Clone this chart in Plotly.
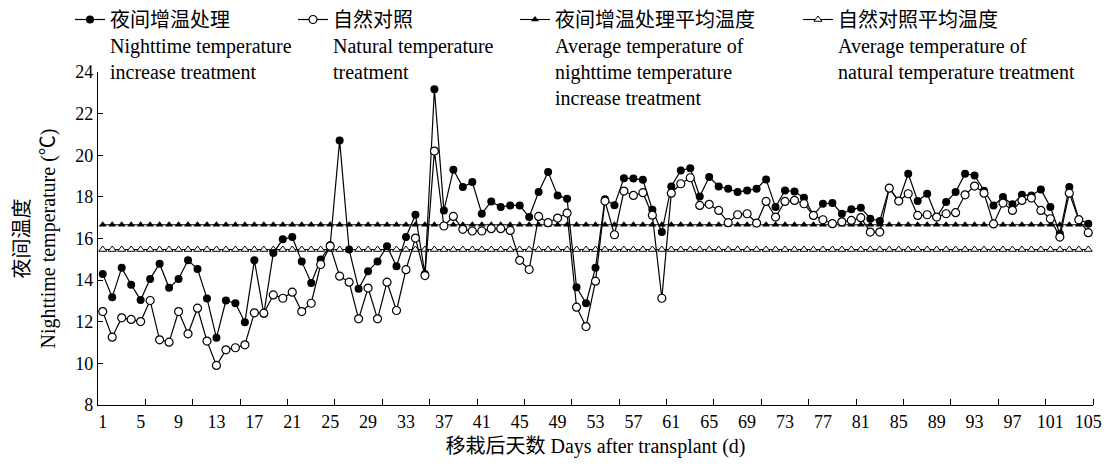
import plotly.graph_objects as go

days = list(range(1, 106))

warming = [14.30, 13.18, 14.59, 13.78, 13.05, 14.06, 14.79, 13.63, 14.06, 14.95,
           14.54, 13.12, 11.23, 13.02, 12.89, 11.98, 14.95, 12.38, 15.30, 15.96,
           16.07, 14.90, 13.86, 14.99, 15.67, 20.71, 15.47, 13.58, 14.43, 14.90,
           15.63, 14.67, 16.07, 17.14, 14.30, 23.17, 17.35, 19.30, 18.47, 18.71,
           17.19, 17.78, 17.51, 17.59, 17.59, 17.03, 18.23, 19.19, 18.07, 17.91,
           13.66, 12.89, 14.59, 17.88, 17.60, 18.90, 18.88, 18.82, 17.38, 16.31,
           18.50, 19.27, 19.38, 18.02, 18.95, 18.50, 18.39, 18.23, 18.31, 18.39,
           18.84, 17.51, 18.31, 18.26, 17.96, 17.11, 17.67, 17.70, 17.19, 17.40,
           17.48, 16.95, 16.84, 18.42, 17.80, 19.11, 17.80, 18.15, 17.03, 17.75,
           18.23, 19.11, 19.03, 18.30, 17.59, 17.99, 17.64, 18.10, 18.07, 18.36,
           17.51, 16.23, 18.47, 16.92, 16.71]

natural = [12.49, 11.26, 12.19, 12.11, 12.01, 13.02, 11.13, 11.02, 12.49, 11.42,
           12.65, 11.07, 9.90, 10.65, 10.75, 10.89, 12.43, 12.41, 13.29, 13.13,
           13.42, 12.49, 12.89, 14.75, 15.63, 14.19, 13.90, 12.14, 13.62, 12.14,
           13.90, 12.54, 14.50, 16.02, 14.22, 20.20, 16.60, 17.06, 16.44, 16.36,
           16.36, 16.47, 16.47, 16.39, 14.95, 14.51, 17.06, 16.76, 16.98, 17.22,
           12.70, 11.77, 13.95, 17.80, 16.18, 18.28, 18.07, 18.20, 17.12, 13.13,
           18.18, 18.63, 18.92, 17.59, 17.64, 17.35, 16.76, 17.14, 17.19, 16.74,
           17.78, 17.03, 17.78, 17.83, 17.67, 17.11, 16.90, 16.71, 16.80, 16.87,
           17.00, 16.31, 16.31, 18.42, 17.80, 18.15, 17.11, 17.14, 17.03, 17.19,
           17.24, 18.10, 18.52, 18.18, 16.70, 17.70, 17.35, 17.83, 17.94, 17.35,
           16.95, 16.07, 18.18, 16.90, 16.28]

warming_mean = 16.66
natural_mean = 15.47

x_ticks = list(range(1, 106, 4))
x_tick_labels = [str(v) for v in x_ticks]
y_ticks = list(range(8, 25, 2))

names = [
    "夜间增温处理<br>Nighttime temperature<br>increase treatment",
    "自然对照<br>Natural temperature<br>treatment",
    "夜间增温处理平均温度<br>Average temperature of<br>nighttime temperature<br>increase treatment",
    "自然对照平均温度<br>Average temperature of<br>natural temperature treatment",
]

FONT = "Liberation Serif, Noto Sans CJK SC, serif"
BLACK = "#000000"

fig = go.Figure()

fig.add_trace(go.Scatter(
    x=days, y=[warming_mean] * len(days), mode="lines+markers", name=names[2],
    line=dict(color=BLACK, width=1.1),
    marker=dict(symbol="triangle-up", size=7, color=BLACK),
    legend="legend3"))
fig.add_trace(go.Scatter(
    x=days, y=[natural_mean] * len(days), mode="lines+markers", name=names[3],
    line=dict(color=BLACK, width=1.1),
    marker=dict(symbol="triangle-up", size=7, color="white", line=dict(color=BLACK, width=1)),
    legend="legend4"))
fig.add_trace(go.Scatter(
    x=days, y=warming, mode="lines+markers", name=names[0],
    line=dict(color=BLACK, width=1.2),
    marker=dict(symbol="circle", size=8, color=BLACK),
    legend="legend"))
fig.add_trace(go.Scatter(
    x=days, y=natural, mode="lines+markers", name=names[1],
    line=dict(color=BLACK, width=1.2),
    marker=dict(symbol="circle", size=8, color="white", line=dict(color=BLACK, width=1.2)),
    legend="legend2"))

leg_common = dict(orientation="v", valign="top", bgcolor="rgba(0,0,0,0)",
                  font=dict(family=FONT, size=20, color=BLACK),
                  xanchor="left", yanchor="top", tracegroupgap=0)
W = 995.0
H = 333.0
def px_x(p):
    return (p - 98) / W
def px_y(p):
    return (405 - p) / H

fig.update_layout(
    width=1109, height=469,
    margin=dict(l=98, r=16, t=72, b=64, autoexpand=False),
    paper_bgcolor="white", plot_bgcolor="white",
    font=dict(family=FONT, size=18, color=BLACK),
    showlegend=True,
    legend=dict(x=px_x(70), y=px_y(0), **leg_common),
    legend2=dict(x=px_x(293), y=px_y(0), **leg_common),
    legend3=dict(x=px_x(515), y=px_y(0), **leg_common),
    legend4=dict(x=px_x(798), y=px_y(0), **leg_common),
    xaxis=dict(
        range=[0.5, 105.5], tickmode="array", tickvals=x_ticks, ticktext=x_tick_labels,
        ticks="", showgrid=False, zeroline=False, showline=True,
        linecolor=BLACK, linewidth=1.3,
        tickfont=dict(family=FONT, size=18, color=BLACK),
        minor=dict(tickmode="array", tickvals=[0.5 + 5 * k for k in range(1, 22)],
                   ticks="inside", ticklen=6, tickwidth=1.2, tickcolor=BLACK, showgrid=False),
        title=dict(text="移栽后天数 Days after transplant (d)",
                   font=dict(family=FONT, size=20, color=BLACK), standoff=8),
    ),
    yaxis=dict(
        range=[8, 24], tickmode="array", tickvals=y_ticks,
        ticks="inside", ticklen=5, tickwidth=1.2, tickcolor=BLACK,
        showgrid=False, zeroline=False, showline=True,
        linecolor=BLACK, linewidth=1.3,
        tickfont=dict(family=FONT, size=18, color=BLACK),
        title=dict(text="夜间温度<br>Nighttime temperature (℃)",
                   font=dict(family=FONT, size=20, color=BLACK), standoff=14),
    ),
)

fig.write_html("out.html", config={"displayModeBar": False},
               post_script="document.body.style.margin='0';")
